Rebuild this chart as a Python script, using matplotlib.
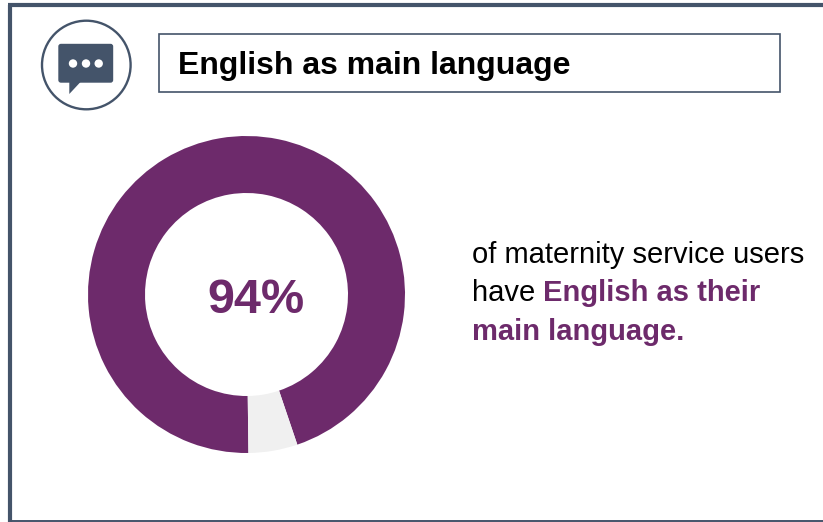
#!/usr/bin/env python3
"""English as main language donut card."""

import matplotlib
matplotlib.use('Agg')
import matplotlib.pyplot as plt
from matplotlib.patches import Circle, FancyBboxPatch, Polygon, Rectangle

plt.rcParams['font.family'] = ['Liberation Sans', 'DejaVu Sans']

# ── Data ──
shares = [95, 5]
share_colors = ['#6D2A6B', '#F0F0F0']
center_label = '94%'
title = 'English as main language'
line_1 = 'of maternity service users'
line_2_plain = 'have '
line_2_bold = 'English as their'
line_3_bold = 'main language.'

SLATE = '#44546A'
PURPLE = '#6D2A6B'
W, H = 823, 522

fig = plt.figure(figsize=(W / 100, H / 100), dpi=100, facecolor='white')

# background axes in pixel coordinates, y pointing down
bg = fig.add_axes([0, 0, 1, 1])
bg.set_xlim(0, W)
bg.set_ylim(H, 0)
bg.axis('off')

# card frame: open on the right side
bg.plot([10, 10], [5, H], color=SLATE, linewidth=3, solid_capstyle='butt')
bg.plot([8, W], [5, 5], color=SLATE, linewidth=3, solid_capstyle='butt')
bg.plot([10, W], [521, 521], color=SLATE, linewidth=1.4, solid_capstyle='butt')

# title box
bg.add_patch(Rectangle((159, 33.5), 621, 58.5, facecolor='white', edgecolor=SLATE, linewidth=1.2))
bg.text(178, 66, title, fontsize=23.0, fontweight='bold', color='black', va='center', ha='left')

# speech bubble icon
bg.add_patch(Circle((86.3, 65), 44.3, facecolor='white', edgecolor=SLATE, linewidth=1.7))
bg.add_patch(FancyBboxPatch((59, 44.5), 53.5, 37.5, boxstyle='round,pad=0,rounding_size=2',
                            facecolor=SLATE, edgecolor=SLATE, linewidth=1))
bg.add_patch(Polygon([(69.3, 82), (69.3, 94), (80.5, 82)], facecolor=SLATE, edgecolor='none'))
for cx in (73, 86, 98.7):
    bg.add_patch(Circle((cx, 63.5), 4.2, facecolor='white', edgecolor='none'))

# donut, centred at (246.5, 294.5) with outer radius 158.5 px
donut = fig.add_axes([(246.5 - 158.5) / W, 1 - (294.5 + 158.5) / H, 317 / W, 317 / H])
donut.pie(shares, colors=share_colors, startangle=-89.3, counterclock=False, radius=1,
          wedgeprops={'width': 57 / 158.5, 'linewidth': 0})
donut.set_xlim(-1, 1)
donut.set_ylim(-1, 1)
donut.text(0.06, -0.04, center_label, fontsize=35, fontweight='bold', color=PURPLE,
           ha='center', va='center')

# side text
body = 21
bg.text(472, 255, line_1, fontsize=body, color='black', va='center', ha='left')
t = bg.text(472, 293, line_2_plain, fontsize=body, color='black', va='center', ha='left')
bg.annotate(line_2_bold, xycoords=t, xy=(1, 0), va='bottom', ha='left', fontsize=body,
            fontweight='bold', color=PURPLE)
bg.text(472, 332, line_3_bold, fontsize=body, fontweight='bold', color=PURPLE, va='center', ha='left')

fig.savefig('out.png', dpi=100)
